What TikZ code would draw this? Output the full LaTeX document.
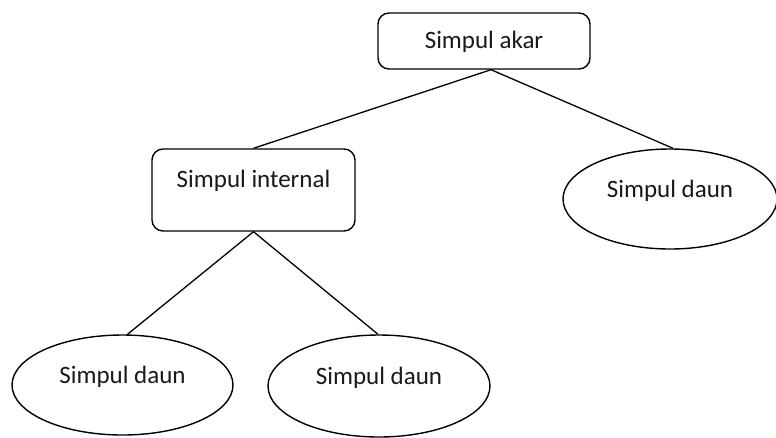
\documentclass[tikz,border=0pt]{standalone}
\usepackage{fontspec}
\setmainfont{Carlito}
\usetikzlibrary{shapes.geometric}
\begin{document}
\begin{tikzpicture}[x=1pt,y=-1pt,
  every node/.style={font=\fontsize{25}{30}\selectfont, text=black!90, inner sep=0pt},
  treebox/.style={draw=black, line width=1.4pt, fill=white, rounded corners=11pt},
  leaf/.style={draw=black, line width=1.4pt, fill=white, ellipse, text height=17pt, text depth=20pt},
  edge/.style={draw=black, line width=1.3pt}]
  \useasboundingbox (0,0) rectangle (776,437);
  % root and internal vertices
  \node[treebox, minimum width=212pt, minimum height=56pt, text height=17pt, text depth=3pt] (root) at (484,41) {Simpul akar};
  \node[treebox, minimum width=203pt, minimum height=82pt, text height=17pt, text depth=23pt] (internal) at (253.5,190) {Simpul internal};
  % leaves
  \node[leaf, minimum width=214pt, minimum height=100pt] (leafR) at (670,199) {Simpul daun};
  \node[leaf, minimum width=221pt, minimum height=100pt] (leafL) at (122.5,385) {Simpul daun};
  \node[leaf, minimum width=222pt, minimum height=102pt] (leafM) at (379,386) {Simpul daun};
  % edges: both branches of the root leave from one point slightly right of centre
  \coordinate (rj) at ([xshift=7pt]root.south);
  \draw[edge] (rj) -- (internal.north);
  \draw[edge] (rj) -- ([xshift=3pt]leafR.north);
  \draw[edge] (internal.south) -- ([xshift=5pt]leafL.north);
  \draw[edge] (internal.south) -- ([xshift=-1pt]leafM.north);
\end{tikzpicture}
\end{document}
